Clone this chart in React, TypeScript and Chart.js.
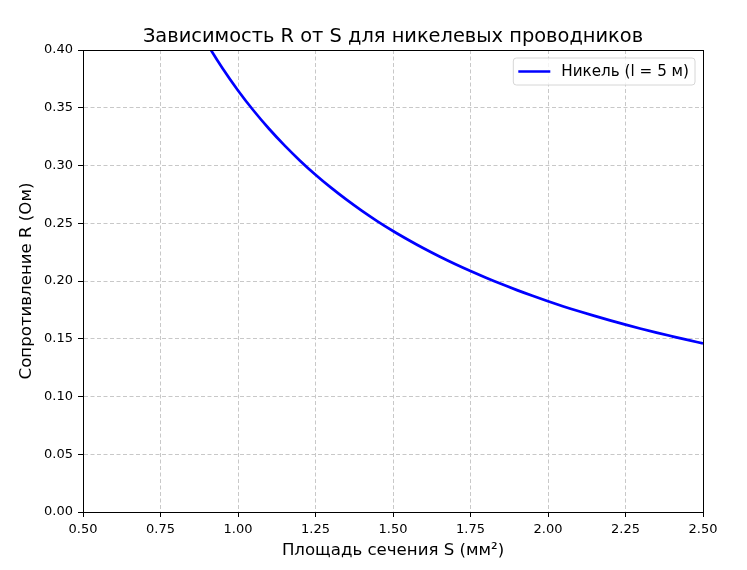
import React, { useEffect, useRef } from "react";
import { Chart, registerables } from "chart.js";

Chart.register(...registerables);

const areaS: number[] = [
  0.5, 0.55, 0.6, 0.65, 0.7, 0.75, 0.8, 0.85, 0.9, 0.95,
  1.0, 1.05, 1.1, 1.15, 1.2, 1.25, 1.3, 1.35, 1.4, 1.45,
  1.5, 1.55, 1.6, 1.65, 1.7, 1.75, 1.8, 1.85, 1.9, 1.95,
  2.0, 2.05, 2.1, 2.15, 2.2, 2.25, 2.3, 2.35, 2.4, 2.45, 2.5,
];
const resistanceR: number[] = [
  0.73, 0.6636, 0.6083, 0.5615, 0.5214, 0.4867, 0.4563, 0.4294, 0.4056, 0.3842,
  0.365, 0.3476, 0.3318, 0.3174, 0.3042, 0.292, 0.2808, 0.2704, 0.2607, 0.2517,
  0.2433, 0.2355, 0.2281, 0.2212, 0.2147, 0.2086, 0.2028, 0.1973, 0.1921, 0.1872,
  0.1825, 0.178, 0.1738, 0.1698, 0.1659, 0.1622, 0.1587, 0.1553, 0.1521, 0.149, 0.146,
];
const seriesLabel = "Никель (l = 5 м)";
const titleText = "Зависимость R от S для никелевых проводников";
const xTitle = "Площадь сечения S (мм²)";
const yTitle = "Сопротивление R (Ом)";

const FONT = "'DejaVu Sans', sans-serif";

const framePlugin = {
  id: "frameAndLegend",
  afterDraw(chart: any) {
    const { ctx, chartArea } = chart;
    const { left, right, top, bottom } = chartArea;
    ctx.save();
    ctx.strokeStyle = "#000";
    ctx.lineWidth = 1;
    ctx.setLineDash([]);
    ctx.strokeRect(Math.round(left) + 0.5, Math.round(top) + 0.5, Math.round(right - left), Math.round(bottom - top));

    // title
    ctx.font = `19.4px ${FONT}`;
    ctx.fillStyle = "#000";
    ctx.textAlign = "center";
    ctx.textBaseline = "middle";
    ctx.fillText(titleText, (left + right) / 2, 36.6);

    // legend
    ctx.font = `15.2px ${FONT}`;
    const tw = ctx.measureText(seriesLabel).width;
    const boxW = tw + 54;
    const boxH = 27;
    const bx = right - 8 - boxW;
    const by = top + 8;
    const r = 3;
    ctx.beginPath();
    ctx.moveTo(bx + r, by);
    ctx.lineTo(bx + boxW - r, by);
    ctx.quadraticCurveTo(bx + boxW, by, bx + boxW, by + r);
    ctx.lineTo(bx + boxW, by + boxH - r);
    ctx.quadraticCurveTo(bx + boxW, by + boxH, bx + boxW - r, by + boxH);
    ctx.lineTo(bx + r, by + boxH);
    ctx.quadraticCurveTo(bx, by + boxH, bx, by + boxH - r);
    ctx.lineTo(bx, by + r);
    ctx.quadraticCurveTo(bx, by, bx + r, by);
    ctx.closePath();
    ctx.fillStyle = "rgba(255,255,255,0.8)";
    ctx.fill();
    ctx.strokeStyle = "#d6d6d6";
    ctx.lineWidth = 1;
    ctx.stroke();
    ctx.beginPath();
    ctx.strokeStyle = "#0000ff";
    ctx.lineWidth = 2.7;
    ctx.moveTo(bx + 5, by + boxH / 2);
    ctx.lineTo(bx + 37, by + boxH / 2);
    ctx.stroke();
    ctx.fillStyle = "#000";
    ctx.textBaseline = "middle";
    ctx.textAlign = "left";
    ctx.fillText(seriesLabel, bx + 48, by + boxH / 2 + 1);
    ctx.restore();
  },
};

export default function App() {
  const ref = useRef<HTMLCanvasElement | null>(null);
  useEffect(() => {
    if (!ref.current) return;
    const points = areaS.map((s, i) => ({ x: s, y: resistanceR[i] }));
    const gridOpts = {
      color: "#c8c8c8",
      lineWidth: 1,
      drawTicks: true,
      tickLength: 5,
      tickColor: "#000",
      tickBorderDash: [],
      tickWidth: 1,
    };
    const borderOpts = { display: true, color: "#000", width: 1, dash: [4, 2.5] };
    const chart = new Chart(ref.current, {
      type: "line",
      data: {
        datasets: [
          {
            label: seriesLabel,
            data: points,
            borderColor: "#0000ff",
            backgroundColor: "#0000ff",
            borderWidth: 2.7,
            pointRadius: 0,
            cubicInterpolationMode: "monotone",
            fill: false,
          },
        ],
      },
      options: {
        animation: false,
        responsive: false,
        layout: { padding: { left: 0, right: 44, top: 50, bottom: 0 } },
        plugins: {
          legend: { display: false },
          tooltip: { enabled: false },
          title: { display: false },
        },
        scales: {
          x: {
            type: "linear",
            min: 0.5,
            max: 2.5,
            grid: gridOpts,
            border: borderOpts,
            ticks: {
              stepSize: 0.25,
              color: "#000",
              padding: 4.5,
              font: { family: FONT, size: 13 },
              callback: (v: any) => Number(v).toFixed(2),
              maxRotation: 0,
              autoSkip: false,
            },
            title: {
              display: true,
              text: xTitle,
              color: "#000",
              font: { family: FONT, size: 16.6 },
              padding: { top: 0, bottom: 9 },
            },
            afterFit: (scale: any) => {
              scale.height = 58;
            },
          },
          y: {
            type: "linear",
            min: 0,
            max: 0.4,
            grid: gridOpts,
            border: borderOpts,
            ticks: {
              stepSize: 0.05,
              color: "#000",
              padding: 5,
              font: { family: FONT, size: 13 },
              callback: (v: any) => Number(v).toFixed(2),
              autoSkip: false,
            },
            title: {
              display: true,
              text: yTitle,
              color: "#000",
              font: { family: FONT, size: 16.6 },
              padding: { top: 17, bottom: 0 },
            },
            afterFit: (scale: any) => {
              scale.width = 83;
            },
          },
        },
      },
      plugins: [framePlugin],
    } as any);
    return () => chart.destroy();
  }, []);
  return (
    <div style={{ position: "absolute", left: 0, top: 0, width: 747, height: 570, background: "#fff" }}>
      <canvas ref={ref} width={747} height={570} style={{ width: 747, height: 570, display: "block" }} />
    </div>
  );
}
